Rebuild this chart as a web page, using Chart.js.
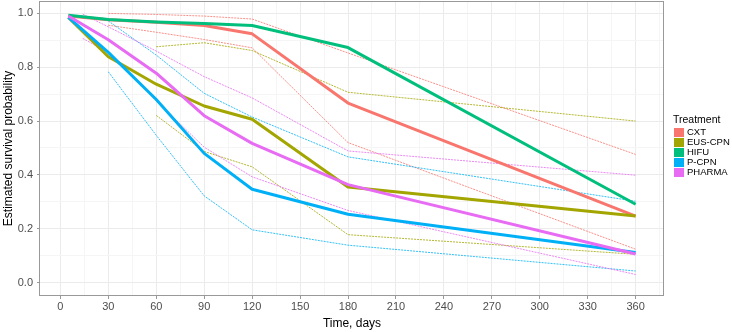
<!DOCTYPE html>
<html><head><meta charset="utf-8">
<script src="https://cdn.jsdelivr.net/npm/chart.js@4.4.1/dist/chart.umd.min.js"></script>
<style>
html,body{margin:0;padding:0;background:#fff;}
#wrap{position:relative;width:732px;height:332px;font-family:"Liberation Sans",Arial,sans-serif;overflow:hidden;}
#c{position:absolute;left:0;top:0;}
.lt{position:absolute;left:673px;top:113px;font-size:10.5px;line-height:13px;color:#000;white-space:nowrap;}
.sw{position:absolute;left:674px;width:9.5px;height:9px;}
.ll{position:absolute;left:687px;font-size:9.5px;line-height:12px;color:#000;white-space:nowrap;}
</style></head>
<body><div id="wrap"><canvas id="c" width="732" height="332"></canvas><div id="legend"></div></div>
<script>
// ---- data ----
const treatments = ['CXT','EUS-CPN','HIFU','P-CPN','PHARMA'];
const colors = ['#F8766D','#A3A500','#00BF7D','#00B0F6','#E76BF3'];
const times = [5,30,60,90,120,180,360];

const cxtEst    = [0.990,0.976,0.967,0.955,0.924,0.667,0.247];
const eusEst    = [0.985,0.839,0.737,0.656,0.607,0.355,0.247];
const hifuEst   = [0.993,0.977,0.968,0.962,0.955,0.873,0.291];
const pcpnEst   = [0.985,0.855,0.680,0.480,0.347,0.254,0.112];
const pharmaEst = [0.990,0.902,0.778,0.620,0.517,0.364,0.106];

const cxtCiTimes = [30,60,90,120,180,360];
const cxtUpper   = [1.000,0.996,0.990,0.979,0.853,0.476];
const cxtLower   = [0.956,0.930,0.903,0.872,0.520,0.124];

const eusCiTimes = [60,90,120,180,360];
const eusUpper   = [0.876,0.891,0.862,0.707,0.600];
const eusLower   = [0.621,0.487,0.430,0.178,0.105];

const pcpnCiTimes = [30,60,90,120,180,360];
const pcpnUpper   = [0.972,0.845,0.703,0.615,0.467,0.302];
const pcpnLower   = [0.783,0.547,0.322,0.196,0.139,0.043];

const pharmaCiTimes = [14,30,60,90,120,180,360];
const pharmaUpper   = [0.997,0.950,0.860,0.765,0.686,0.489,0.399];
const pharmaLower   = [0.907,0.855,0.675,0.503,0.393,0.268,0.030];

const xMajorTicks = [0,30,60,90,120,150,180,210,240,270,300,330,360];
const yMajorTicks = [0,0.2,0.4,0.6,0.8,1.0];

// ---- build ----
const pts = (t, v) => t.map((x, i) => ({x: x, y: v[i]}));
function rgba(hex, a){const n=parseInt(hex.slice(1),16);return `rgba(${n>>16},${(n>>8)&255},${n&255},${a})`;}

const estList = [cxtEst, eusEst, hifuEst, pcpnEst, pharmaEst];
const ciList = [
  [cxtCiTimes, cxtUpper, cxtLower],
  [eusCiTimes, eusUpper, eusLower],
  null,
  [pcpnCiTimes, pcpnUpper, pcpnLower],
  [pharmaCiTimes, pharmaUpper, pharmaLower]
];

const datasets = [];
for (let i = treatments.length - 1; i >= 0; i--) {
  datasets.push({label: treatments[i], data: pts(times, estList[i]), borderColor: colors[i],
    borderWidth: 3, pointRadius: 0, tension: 0, fill: false, borderJoinStyle: 'round'});
}
for (let i = treatments.length - 1; i >= 0; i--) {
  const ci = ciList[i];
  if (!ci) continue;
  [ci[1], ci[2]].forEach(v => datasets.push({label: treatments[i] + ' CI', data: pts(ci[0], v),
    borderColor: rgba(colors[i], 0.8), borderWidth: 1, borderDash: [2, 1], pointRadius: 0, tension: 0, fill: false}));
}

const xMinor = xMajorTicks.map(v => v + 15);
const yMinor = yMajorTicks.map(v => Math.round((v + 0.1) * 10) / 10).filter(v => v < 1.04);
const isMajorX = v => xMajorTicks.includes(v);
const isMajorY = v => yMajorTicks.some(m => Math.abs(m - v) < 1e-6);

const panelBorder = {
  id: 'panelBorder',
  afterDraw(chart) {
    const {ctx, chartArea: a} = chart;
    ctx.save();
    ctx.strokeStyle = '#999999';
    ctx.lineWidth = 1;
    ctx.strokeRect(a.left - 0.5, a.top + 0.5, a.right - a.left, a.bottom - a.top - 1);
    ctx.restore();
  }
};

const FONT = '"Liberation Sans", Arial, sans-serif';
new Chart(document.getElementById('c'), {
  type: 'line',
  data: {datasets},
  options: {
    responsive: false, animation: false, devicePixelRatio: 1,
    layout: {padding: {top: 1, right: 68, left: 0, bottom: 0}},
    plugins: {legend: {display: false}, tooltip: {enabled: false}},
    scales: {
      x: {
        type: 'linear', min: -12.75, max: 377.75,
        afterBuildTicks: s => { s.ticks = xMajorTicks.concat(xMinor).sort((a,b)=>a-b).map(v => ({value: v})); },
        afterFit: s => { s.height = 36; s.paddingLeft = 0; s.paddingRight = 0; },
        grid: {color: c => isMajorX(c.tick.value) ? '#ebebeb' : '#f5f5f5', lineWidth: 1,
               drawTicks: true, tickLength: 3, tickColor: c => isMajorX(c.tick.value) ? '#999999' : 'rgba(0,0,0,0)'},
        border: {display: false},
        ticks: {autoSkip: false, maxRotation: 0, padding: 1, color: '#4d4d4d',
                font: {family: FONT, size: 11},
                callback: v => isMajorX(v) ? String(v) : ''},
        title: {display: true, text: 'Time, days', color: '#000', font: {family: FONT, size: 12}, padding: {top: 0, bottom: 1.3}}
      },
      y: {
        type: 'linear', min: -0.0498, max: 1.046,
        afterBuildTicks: s => { s.ticks = yMajorTicks.concat(yMinor).sort((a,b)=>a-b).map(v => ({value: v})); },
        afterFit: s => { s.width = 40; s.paddingTop = 0; s.paddingBottom = 0; },
        grid: {color: c => isMajorY(c.tick.value) ? '#ebebeb' : '#f5f5f5', lineWidth: 1,
               drawTicks: true, tickLength: 3, tickColor: c => isMajorY(c.tick.value) ? '#999999' : 'rgba(0,0,0,0)'},
        border: {display: false},
        ticks: {autoSkip: false, padding: 4, color: '#4d4d4d',
                font: {family: FONT, size: 11},
                callback: v => isMajorY(v) ? v.toFixed(1) : ''},
        title: {display: true, text: 'Estimated survival probability', color: '#000', font: {family: FONT, size: 12}, padding: {top: 1, bottom: 0}}
      }
    }
  },
  plugins: [panelBorder]
});

// ---- legend (HTML text) ----
const lg = document.getElementById('legend');
const t = document.createElement('div'); t.className = 'lt'; t.textContent = 'Treatment'; lg.appendChild(t);
treatments.forEach((name, i) => {
  const sw = document.createElement('div'); sw.className = 'sw';
  sw.style.top = (127.5 + 10 * i) + 'px'; sw.style.background = colors[i]; lg.appendChild(sw);
  const l = document.createElement('div'); l.className = 'll';
  l.style.top = (126 + 10 * i) + 'px'; l.textContent = name; lg.appendChild(l);
});
</script>
</body></html>
